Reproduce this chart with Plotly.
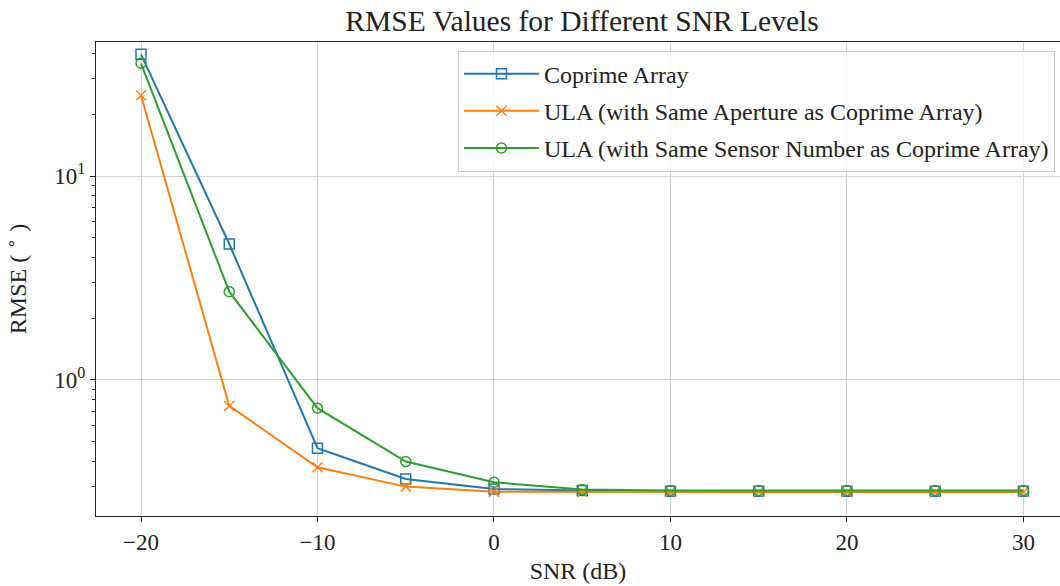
import plotly.graph_objects as go

snr = [-20, -15, -10, -5, 0, 5, 10, 15, 20, 25, 30]
rmse_coprime = [39.5, 4.64, 0.463, 0.327, 0.292, 0.287, 0.285, 0.285, 0.285, 0.285, 0.285]
rmse_ula_aperture = [24.9, 0.746, 0.373, 0.300, 0.283, 0.282, 0.282, 0.282, 0.282, 0.282, 0.282]
rmse_ula_sensor = [35.7, 2.71, 0.727, 0.398, 0.315, 0.290, 0.287, 0.287, 0.287, 0.287, 0.287]

names = ["Coprime Array",
         "ULA (with Same Aperture as Coprime Array)",
         "ULA (with Same Sensor Number as Coprime Array)"]
x_ticks = [-20, -10, 0, 10, 20, 30]
x_ticktext = ["\u221220", "\u221210", "0", "10", "20", "30"]
y_ticks = [1, 10]
y_ticktext = ["10<sup>0</sup>", "10<sup>1</sup>"]
y_minor = [0.3, 0.4, 0.5, 0.6, 0.7, 0.8, 0.9, 2, 3, 4, 5, 6, 7, 8, 9, 20, 30, 40]

colors = ["#1f77b4", "#ff7f0e", "#2ca02c"]
symbols = ["square-open", "x-thin-open", "circle-open"]
sizes = [10, 10, 10]
series = [rmse_coprime, rmse_ula_aperture, rmse_ula_sensor]

FONT = "Liberation Serif, Times New Roman, serif"

fig = go.Figure()
for i, (nm, ys) in enumerate(zip(names, series)):
    fig.add_trace(go.Scatter(
        x=snr, y=ys, name=nm, mode="lines+markers",
        line=dict(color=colors[i], width=2),
        marker=dict(symbol=symbols[i], size=sizes[i], color=colors[i],
                    line=dict(color=colors[i], width=1.5)),
        legendgroup=f"g{i}",
    ))

fig.update_layout(
    width=1060, height=586,
    margin=dict(l=96, r=0, t=42, b=70),
    paper_bgcolor="white", plot_bgcolor="white",
    font=dict(family=FONT, size=23, color="#222222"),
    title=dict(text="RMSE Values for Different SNR Levels", x=(96 + 1068) / 2 / 1060,
               xanchor="center", y=1 - 21 / 586, yanchor="middle", yref="container",
               font=dict(size=29.5, family=FONT, color="#222222")),
    showlegend=True,
    legend=dict(x=0.9948, xanchor="right", y=0.982, yanchor="top",
                bgcolor="rgba(255,255,255,0.8)", bordercolor="#cccccc", borderwidth=1,
                font=dict(size=24, family=FONT, color="#222222"),
                itemwidth=75,
                traceorder="grouped", tracegroupgap=3),
)
fig.update_xaxes(
    range=[-22.55, 32.07], tickvals=x_ticks, ticktext=x_ticktext,
    showgrid=True, gridcolor="#d3d3d3", gridwidth=1, zeroline=False,
    showline=True, linecolor="#222222", linewidth=1, mirror=True,
    ticks="outside", ticklen=5, tickcolor="#222222",
    title=dict(text="SNR (dB)", font=dict(size=24, family=FONT), standoff=8),
)
fig.update_yaxes(
    type="log", range=[-0.667, 1.657], tickvals=y_ticks, ticktext=y_ticktext,
    showgrid=True, gridcolor="#d3d3d3", gridwidth=1, zeroline=False,
    showline=True, linecolor="#222222", linewidth=1, mirror=False,
    ticks="outside", ticklen=5, tickcolor="#222222",
    minor=dict(tickvals=y_minor, ticks="outside", ticklen=3, tickcolor="#222222", showgrid=False),
    title=dict(text="RMSE ( <sup>\u2218</sup> )", font=dict(size=24, family=FONT), standoff=20),
)

fig.write_html("out.html")
